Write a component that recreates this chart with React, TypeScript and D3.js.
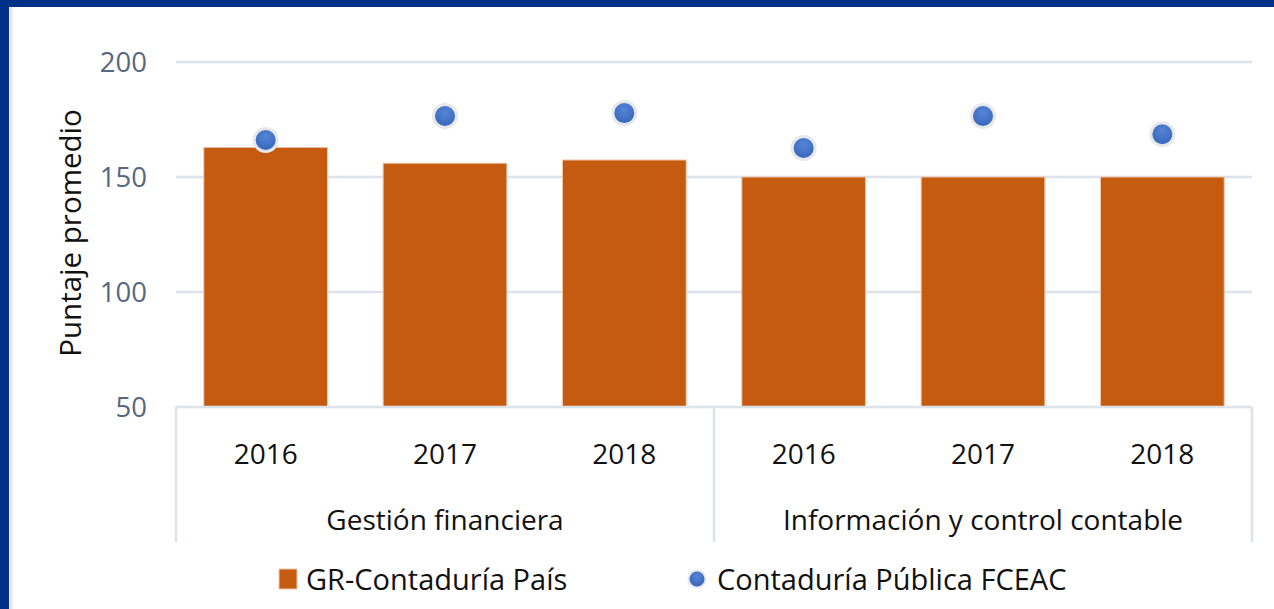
import React from 'react';
import * as d3 from 'd3';

// data
const groups = ['Gestión financiera', 'Información y control contable'];
const years = ['2016', '2017', '2018'];
const grPais = [162.9, 156.0, 157.4, 150, 150, 150];
const fceac = [166.1, 176.5, 177.8, 162.6, 176.5, 168.6];
const yTicks = [50, 100, 150, 200];
const seriesNames = ['GR-Contaduría País', 'Contaduría Pública FCEAC'];

const W = 1274;
const H = 609;
const FONT = '"Open Sans", "Noto Sans", sans-serif';

const App = () => {
  const keys = groups.flatMap((g, gi) => years.map((y) => `${gi}-${y}`));

  const x = d3.scaleBand<string>()
    .domain(keys)
    .range([176, 1252])
    .paddingInner(0.31)
    .paddingOuter(0.155);

  const y = d3.scaleLinear().domain([50, 200]).range([407, 62]);

  const grid = '#dde3ea';
  const groupW = (1252 - 176) / groups.length;

  return (
    <svg width={W} height={H} style={{ position: 'absolute', left: 0, top: 0 }} fontFamily={FONT}>
      <defs>
        <radialGradient id="dotFill" cx="50%" cy="35%" r="65%">
          <stop offset="0%" stopColor="#5585d6" />
          <stop offset="100%" stopColor="#3563ba" />
        </radialGradient>
      </defs>

      {/* frame */}
      <rect x={0} y={0} width={W} height={H} fill="#013088" />
      <rect x={9} y={7} width={W - 9} height={H - 7} fill="#fff" />
      <line x1={11} x2={11} y1={7} y2={H} stroke="#e1e7ee" strokeWidth={3} />

      {/* gridlines */}
      {yTicks.filter((t) => t > 50).map((t) => (
        <line key={t} x1={176} x2={1252} y1={y(t)} y2={y(t)} stroke={grid} strokeWidth={2.5} />
      ))}

      {/* y tick labels */}
      {yTicks.map((t) => (
        <text key={t} x={147} y={y(t)} dy="0.36em" textAnchor="end" fontSize={27.5} fill="#566780">
          {t}
        </text>
      ))}

      {/* y title */}
      <text
        transform={`translate(81,233) rotate(-90)`}
        textAnchor="middle"
        fontSize={29.5}
        fill="#111"
      >
        Puntaje promedio
      </text>

      {/* bars */}
      {grPais.map((v, i) => (
        <rect
          key={keys[i]}
          x={x(keys[i])}
          y={y(v)}
          width={x.bandwidth()}
          height={y(50) - y(v)}
          fill="#c55a11"
          stroke="#f0c9b0"
          strokeWidth={1}
        />
      ))}

      {/* category axis */}
      <line x1={176} x2={1252} y1={y(50)} y2={y(50)} stroke={grid} strokeWidth={2.5} />
      {d3.range(groups.length + 1).map((i) => (
        <line
          key={i}
          x1={176 + i * groupW}
          x2={176 + i * groupW}
          y1={y(50)}
          y2={542}
          stroke={grid}
          strokeWidth={2.5}
        />
      ))}
      {keys.map((k, i) => (
        <text key={k} x={(x(k) ?? 0) + x.bandwidth() / 2} y={464} textAnchor="middle" fontSize={28} fill="#111">
          {years[i % years.length]}
        </text>
      ))}
      {groups.map((g, gi) => (
        <text key={g} x={176 + (gi + 0.5) * groupW} y={530} textAnchor="middle" fontSize={28} fill="#111">
          {g}
        </text>
      ))}

      {/* dots */}
      {fceac.map((v, i) => (
        <circle
          key={keys[i]}
          cx={(x(keys[i]) ?? 0) + x.bandwidth() / 2}
          cy={y(v)}
          r={11.5}
          fill="url(#dotFill)"
          stroke="#e6e8ec"
          strokeWidth={3}
        />
      ))}

      {/* legend */}
      <rect x={279} y={569} width={18} height={20} fill="#c55a11" stroke="#f0c9b0" strokeWidth={1} />
      <text x={306} y={590} fontSize={29} fill="#111">{seriesNames[0]}</text>
      <circle cx={697} cy={579} r={8.5} fill="url(#dotFill)" stroke="#e6e8ec" strokeWidth={2} />
      <text x={717} y={590} fontSize={29} fill="#111">{seriesNames[1]}</text>
    </svg>
  );
};

export default App;
